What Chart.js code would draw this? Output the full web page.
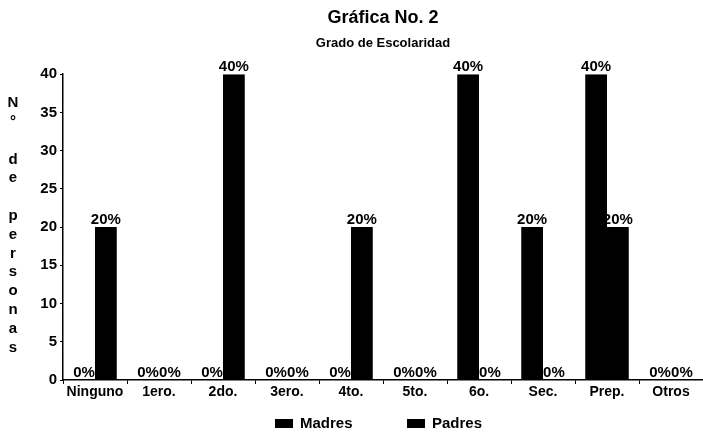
<!DOCTYPE html>
<html>
<head>
<meta charset="utf-8">
<script src="https://cdn.jsdelivr.net/npm/chart.js@4.4.1/dist/chart.umd.min.js"></script>
<style>
    html, body { margin: 0; padding: 0; background: #fff; }
    #wrap { width: 703px; height: 438px; position: relative; }
</style>
</head>
<body>
<div id="wrap"><canvas id="escolaridadChart"></canvas></div>
<script>
// Datos de la gráfica
const niveles = ['Ninguno', '1ero.', '2do.', '3ero.', '4to.', '5to.', '6o.', 'Sec.', 'Prep.', 'Otros'];
const madres = [0, 0, 0, 0, 0, 0, 40, 20, 40, 0];
const padres = [20, 0, 40, 0, 20, 0, 0, 0, 20, 0];
const yTicks = [0, 5, 10, 15, 20, 25, 30, 35, 40];
const ejeY = ['N', '°', '', 'd', 'e', '', 'p', 'e', 'r', 's', 'o', 'n', 'a', 's'];

const FONT = "'Liberation Sans Narrow', 'Arial Narrow', 'Liberation Sans', Arial, sans-serif";

// Porcentaje encima de cada barra
const etiquetas = {
    id: 'etiquetas',
    afterDatasetsDraw(chart) {
        const c = chart.ctx;
        c.save();
        c.font = `bold 15px ${FONT}`;
        c.fillStyle = '#000';
        c.textAlign = 'center';
        c.textBaseline = 'alphabetic';
        chart.data.datasets.forEach((ds, i) => {
            chart.getDatasetMeta(i).data.forEach((bar, j) => {
                c.fillText(`${ds.data[j]}%`, bar.x, bar.y - 3);
            });
        });
        c.restore();
    }
};

// Título del eje Y letra por letra y leyenda inferior
const extras = {
    id: 'extras',
    afterDraw(chart) {
        const c = chart.ctx;
        c.save();
        c.fillStyle = '#000';
        c.font = `bold 15px ${FONT}`;
        c.textAlign = 'center';
        c.textBaseline = 'middle';
        ejeY.forEach((ch, i) => {
            if (ch) c.fillText(ch, 13, 103 + i * 18.8);
        });

        c.textAlign = 'left';
        c.font = `bold 15px ${FONT}`;
        const pos = [275, 407];
        chart.data.datasets.forEach((ds, i) => {
            c.fillStyle = ds.backgroundColor;
            c.fillRect(pos[i], 419, 18, 9);
            c.fillStyle = '#000';
            c.fillText(ds.label, pos[i] + 25, 424);
        });
        c.restore();
    }
};

const ctx = document.getElementById('escolaridadChart').getContext('2d');

new Chart(ctx, {
    type: 'bar',
    data: {
        labels: niveles,
        datasets: [
            { label: 'Madres', data: madres, backgroundColor: '#000' },
            { label: 'Padres', data: padres, backgroundColor: '#000' }
        ]
    },
    options: {
        responsive: true,
        maintainAspectRatio: false,
        animation: false,
        categoryPercentage: 0.68,
        barPercentage: 1,
        layout: { padding: { left: 0, right: 0, top: 0, bottom: 0 } },
        plugins: {
            legend: { display: false },
            tooltip: { enabled: false },
            title: {
                display: true,
                text: 'Gráfica No. 2',
                color: '#000',
                fullSize: false,
                font: { family: FONT, size: 18, weight: 'bold' },
                padding: { top: 7, bottom: 4 }
            },
            subtitle: {
                display: true,
                text: 'Grado de Escolaridad',
                color: '#000',
                fullSize: false,
                font: { family: FONT, size: 13, weight: 'bold' },
                padding: { top: 3, bottom: 23 }
            }
        },
        scales: {
            x: {
                afterFit(scale) { scale.height = 58; },
                border: { color: '#000', width: 1.5 },
                grid: { drawOnChartArea: false, color: '#000', tickLength: 4 },
                ticks: {
                    color: '#000',
                    padding: 0,
                    maxRotation: 0,
                    font: { family: FONT, size: 14, weight: 'bold' }
                }
            },
            y: {
                min: 0,
                max: 40,
                afterFit(scale) { scale.width = 63; },
                afterBuildTicks(scale) { scale.ticks = yTicks.map(v => ({ value: v })); },
                border: { color: '#000', width: 1.5 },
                grid: { drawOnChartArea: false, color: '#000', tickLength: 3 },
                ticks: {
                    color: '#000',
                    padding: 3,
                    font: { family: FONT, size: 15, weight: 'bold' }
                }
            }
        }
    },
    plugins: [etiquetas, extras]
});
</script>
</body>
</html>
